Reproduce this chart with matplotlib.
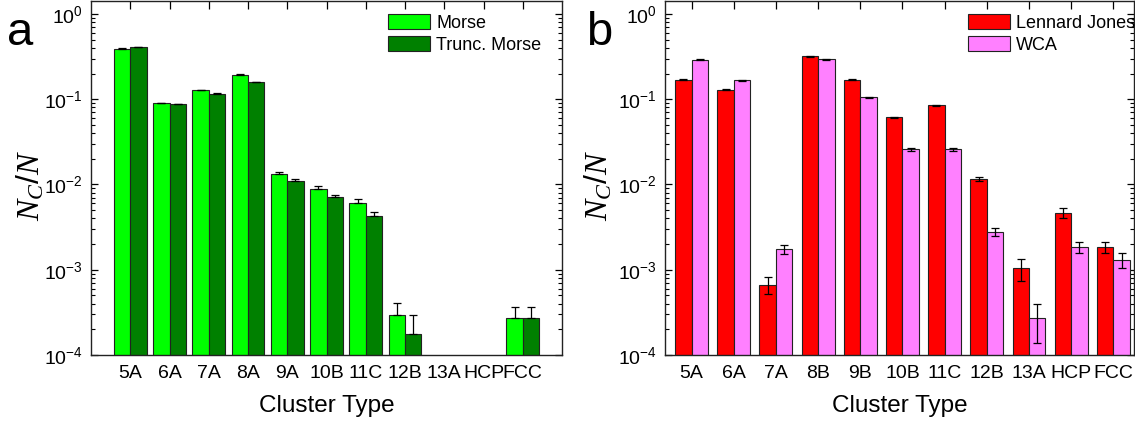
import numpy as np
import matplotlib
matplotlib.use("Agg")
import matplotlib.pyplot as plt
from matplotlib.ticker import LogLocator, NullFormatter

plt.rcParams['font.family'] = ['Liberation Sans', 'DejaVu Sans']
plt.rcParams['mathtext.fontset'] = 'custom'
plt.rcParams['mathtext.rm'] = 'Liberation Sans'
plt.rcParams['mathtext.it'] = 'Liberation Serif:italic'

nan = np.nan

# panel a: Morse vs truncated Morse
labels_a = ["5A", "6A", "7A", "8A", "9A", "10B", "11C", "12B", "13A", "HCP", "FCC"]
morse = [0.39, 0.090, 0.128, 0.193, 0.0133, 0.0088, 0.0061, 2.96e-4, nan, nan, 2.73e-4]
morse_err = [0.005, 0.001, 0.002, 0.003, 0.0006, 0.0007, 0.0006, 1.1e-4, nan, nan, 0.9e-4]
trunc = [0.41, 0.087, 0.115, 0.158, 0.011, 0.0071, 0.0043, 1.77e-4, nan, nan, 2.73e-4]
trunc_err = [0.005, 0.001, 0.002, 0.002, 0.0007, 0.0005, 0.0005, 1.2e-4, nan, nan, 0.95e-4]

# panel b: Lennard Jones vs WCA
labels_b = ["5A", "6A", "7A", "8B", "9B", "10B", "11C", "12B", "13A", "HCP", "FCC"]
lj = [0.169, 0.130, 6.7e-4, 0.319, 0.170, 0.0615, 0.085, 0.01155, 1.045e-3, 4.67e-3, 1.84e-3]
lj_err = [0.002, 0.001, 1.5e-4, 0.003, 0.003, 0.001, 0.0015, 7e-4, 3e-4, 6e-4, 2.8e-4]
wca = [0.292, 0.166, 1.74e-3, 0.294, 0.105, 0.0259, 0.026, 2.8e-3, 2.68e-4, 1.84e-3, 1.31e-3]
wca_err = [0.002, 0.002, 1.9e-4, 0.002, 0.001, 0.0011, 0.001, 3.2e-4, 1.3e-4, 2.5e-4, 2.5e-4]

W, H = 1135, 421
fig = plt.figure(figsize=(W / 100, H / 100), dpi=100)
ax_a = fig.add_axes([91 / W, 66 / H, 471 / W, 354 / H])
ax_b = fig.add_axes([665 / W, 66 / H, 469 / W, 354 / H])


def draw_panel(ax, labels, y1, e1, y2, e2, c1, c2, n1, n2, w, xlim, upper_only):
    x = np.arange(len(labels))
    y1 = np.array(y1)
    y2 = np.array(y2)
    e1 = np.array(e1)
    e2 = np.array(e2)
    ax.bar(x - w / 2, y1, w, color=c1, edgecolor="#222222", linewidth=0.8, label=n1, zorder=2)
    ax.bar(x + w / 2, y2, w, color=c2, edgecolor="#222222", linewidth=0.8, label=n2, zorder=2)
    if upper_only:
        ye1 = [np.zeros_like(e1), e1]
        ye2 = [np.zeros_like(e2), e2]
    else:
        ye1, ye2 = e1, e2
    ax.errorbar(x - w / 2, y1, yerr=ye1, fmt="none", ecolor="black", elinewidth=0.9,
                capsize=3, capthick=0.9, zorder=3)
    ax.errorbar(x + w / 2, y2, yerr=ye2, fmt="none", ecolor="black", elinewidth=0.9,
                capsize=3, capthick=0.9, zorder=3)
    ax.set_yscale("log")
    ax.set_ylim(1e-4, 1.42)
    ax.set_xlim(*xlim)
    ax.set_xticks(x)
    ax.set_xticklabels(labels)
    ax.yaxis.set_major_locator(LogLocator(base=10, numticks=10))
    ax.yaxis.set_minor_locator(LogLocator(base=10, subs=np.arange(2, 10), numticks=20))
    ax.yaxis.set_minor_formatter(NullFormatter())
    ax.tick_params(axis="y", which="major", direction="in", length=5, width=0.9,
                   left=True, right=True, labelsize=14, pad=6)
    ax.tick_params(axis="y", which="minor", direction="in", length=3, width=0.8,
                   left=True, right=True)
    ax.tick_params(axis="x", which="major", direction="in", length=6, width=0.9,
                   bottom=False, top=True, labelsize=14, pad=7)
    for s in ax.spines.values():
        s.set_linewidth(1.0)
        s.set_color("#222222")
    ax.set_xlabel("Cluster Type", fontsize=17.5)
    ax.xaxis.set_label_coords(0.5, -0.112)
    ax.set_ylabel(r"$\mathit{N}_{\mathit{C}}\mathit{/N}$", fontsize=23)
    ax.legend(loc="upper left", frameon=False, fontsize=13, handlelength=2.3,
              handleheight=0.9, handletextpad=0.35, labelspacing=0.2,
              borderpad=0, borderaxespad=0)


draw_panel(ax_a, labels_a, morse, morse_err, trunc, trunc_err, "#00FF00", "#008000",
           "Morse", "Trunc. Morse", 0.415, (-1, 11), True)
ax_a.get_legend().set_bbox_to_anchor((0.631, 0.962))
ax_a.yaxis.set_label_coords(-0.095, 0.48)

draw_panel(ax_b, labels_b, lj, lj_err, wca, wca_err, "#FF0000", "#FF80FF",
           "Lennard Jones", "WCA", 0.39, (-0.63, 10.49), False)
ax_b.get_legend().set_bbox_to_anchor((0.646, 0.962))
ax_b.yaxis.set_label_coords(-0.108, 0.48)

fig.text(7 / W, 1 - 45 / H, "a", fontsize=34)
fig.text(586 / W, 1 - 45 / H, "b", fontsize=34)

fig.savefig("out.png", dpi=100)
